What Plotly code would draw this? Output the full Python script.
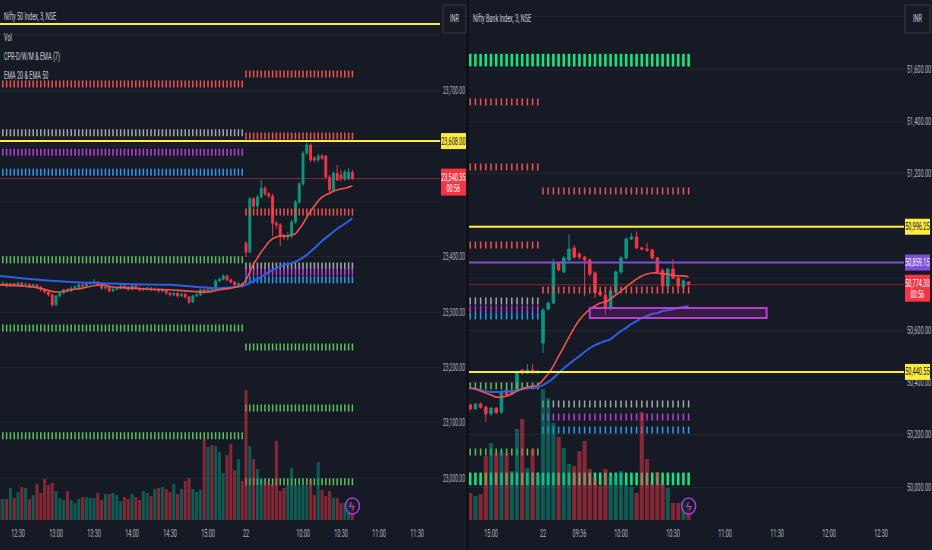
import plotly.graph_objects as go

# ---------------- Nifty 50 Index, 3 min (left pane) ----------------
# bar 0 = 09:15 on the 22nd, negative bars are the afternoon of the 21st
n50_open = [23350, 23349, 23351, 23347, 23351, 23349, 23352, 23349, 23350, 23347,
            23349, 23345, 23340, 23336, 23331, 23313, 23329, 23334, 23340, 23338,
            23343, 23345, 23349, 23347, 23351, 23352, 23354, 23349, 23343, 23345,
            23338, 23341, 23343, 23347, 23345, 23341, 23347, 23343, 23340, 23341,
            23343, 23340, 23341, 23338, 23340, 23334, 23331, 23334, 23329, 23332,
            23327, 23318, 23329, 23331, 23340, 23336, 23341, 23340, 23356, 23359,
            23365, 23358, 23354, 23349, 23351,
            23424, 23408, 23504, 23491, 23507, 23523, 23513, 23509, 23460, 23457,
            23437, 23435, 23437, 23462, 23498, 23531, 23586, 23601, 23577, 23574,
            23581, 23581, 23543, 23520, 23550, 23547, 23540, 23540, 23552]
n50_high = [23354, 23355, 23353, 23353, 23353, 23355, 23354, 23353, 23352, 23351,
            23350, 23347, 23342, 23338, 23333, 23331, 23336, 23342, 23343, 23346,
            23348, 23352, 23351, 23354, 23355, 23360, 23356, 23351, 23348, 23347,
            23344, 23346, 23349, 23349, 23347, 23349, 23349, 23345, 23344, 23346,
            23345, 23344, 23343, 23343, 23342, 23336, 23337, 23336, 23335, 23334,
            23329, 23331, 23334, 23342, 23342, 23344, 23343, 23359, 23362, 23368,
            23367, 23360, 23356, 23353, 23353,
            23428, 23507, 23507, 23511, 23538, 23527, 23516, 23513, 23464, 23460,
            23441, 23444, 23466, 23502, 23534, 23590, 23606, 23604, 23581, 23585,
            23585, 23583, 23547, 23554, 23565, 23556, 23556, 23559, 23556]
n50_low = [23346, 23347, 23344, 23345, 23346, 23347, 23346, 23347, 23344, 23345,
           23342, 23337, 23333, 23328, 23309, 23310, 23326, 23332, 23335, 23336,
           23341, 23343, 23344, 23345, 23349, 23350, 23346, 23340, 23341, 23335,
           23336, 23339, 23341, 23342, 23338, 23339, 23341, 23337, 23338, 23339,
           23337, 23338, 23335, 23336, 23331, 23328, 23329, 23326, 23327, 23324,
           23314, 23316, 23327, 23329, 23333, 23334, 23337, 23338, 23354, 23357,
           23355, 23351, 23346, 23347, 23344,
           23399, 23405, 23487, 23487, 23505, 23509, 23505, 23437, 23451, 23419,
           23430, 23430, 23433, 23459, 23495, 23527, 23583, 23570, 23570, 23570,
           23574, 23541, 23516, 23516, 23536, 23536, 23536, 23538, 23538]
n50_close = [23349, 23351, 23347, 23351, 23349, 23352, 23349, 23350, 23347, 23349,
             23345, 23340, 23336, 23331, 23313, 23329, 23334, 23340, 23338, 23343,
             23345, 23349, 23347, 23351, 23352, 23354, 23349, 23343, 23345, 23338,
             23341, 23343, 23347, 23345, 23341, 23347, 23343, 23340, 23341, 23343,
             23340, 23341, 23338, 23340, 23334, 23331, 23334, 23329, 23332, 23327,
             23318, 23329, 23331, 23340, 23336, 23341, 23340, 23356, 23359, 23365,
             23358, 23354, 23349, 23351, 23347,
             23408, 23504, 23491, 23507, 23523, 23513, 23509, 23460, 23457, 23437,
             23435, 23437, 23462, 23498, 23531, 23586, 23601, 23574, 23574, 23581,
             23577, 23543, 23520, 23550, 23538, 23541, 23552, 23552, 23540.35]
n50_vol = [21, 21, 21, 32, 22, 28, 33, 32, 21, 25, 36, 27, 41, 35, 37, 29, 22, 20, 29, 20,
           17, 21, 23, 23, 22, 22, 27, 20, 26, 26, 27, 25, 19, 23, 21, 26, 23, 20, 29, 27,
           24, 31, 32, 33, 31, 28, 36, 26, 31, 39, 42, 31, 28, 30, 81, 73, 75, 74, 68, 47,
           65, 76, 50, 61, 39,
           130, 74, 61, 51, 41, 39, 36, 36, 79, 29, 32, 35, 52, 35, 34, 36, 34, 40, 25, 58,
           30, 24, 29, 22, 22, 17, 17, 18, 16]

n50_ema20_bar = [-65, -56, -53, -50, -46, -43, -38, -35, -30, -25, -20, -16, -10, -7, -4, -1,
                 0, 1, 2, 3, 4, 5, 6, 7, 8, 9, 10, 11, 12, 13, 14, 15, 16, 17, 18, 19, 20,
                 21, 22, 23, 24, 25, 26, 27, 28]
n50_ema20 = [23349, 23345, 23341, 23336, 23340, 23343, 23349, 23345, 23343, 23341, 23340,
             23338, 23336, 23340, 23343, 23349,
             23358, 23372, 23387, 23397, 23408, 23417, 23426, 23432, 23435, 23437, 23437,
             23437, 23439, 23441, 23450, 23459, 23471, 23482, 23491, 23500, 23507, 23511,
             23514, 23518, 23520, 23522, 23523, 23525, 23527]
n50_ema50_bar = [-65, -56, -46, -38, -30, -20, -13, -7, -3, -1, 0, 2, 4, 6, 8, 10, 12, 14,
                 16, 18, 20, 22, 24, 26, 28]
n50_ema50 = [23365, 23359, 23354, 23352, 23350, 23349, 23345, 23343, 23345, 23347, 23349,
             23356, 23363, 23372, 23379, 23385, 23388, 23394, 23403, 23415, 23428, 23439,
             23450, 23459, 23469]

# CPR / pivot levels, per day
n50_cpr21 = [23711, 23623, 23588, 23552, 23394, 23271, 23077]
n50_cpr21_kind = ['red', 'gray', 'purple', 'blue', 'green', 'green', 'green']
n50_cpr22 = [23729, 23617, 23480, 23383, 23372, 23358, 23237, 23127, 22994]
n50_cpr22_kind = ['red', 'red', 'red', 'gray', 'purple', 'blue', 'green', 'green', 'green']
n50_yellow = [23819, 23608]
n50_last = 23540.35

n50_yticks = [22900, 23000, 23100, 23200, 23300, 23400, 23500, 23600, 23700, 23800]
n50_yhidden = [23500, 23600, 23800]          # covered by the price tags / INR button
n50_ticks_bar = [-60, -50, -40, -30, -20, -10, 0, 15, 25, 35, 45]
n50_ticks_txt = ['12:30', '13:00', '13:30', '14:00', '14:30', '15:00', '22',
                 '10:00', '10:30', '11:00', '11:30']

# ---------------- Nifty Bank Index, 3 min (right pane) ----------------
bnf_open = [50314, 50299, 50318, 50306, 50280, 50302, 50287, 50372, 50356, 50372,
            50448, 50436, 50448, 50437,
            50551, 50681, 50704, 50857, 50823, 50869, 50915, 50892, 50880, 50869,
            50819, 50746, 50735, 50685, 50746, 50823, 50877, 50949, 50957, 50915,
            50911, 50907, 50877, 50830, 50769, 50834, 50800, 50766, 50785]
bnf_high = [50320, 50322, 50324, 50310, 50306, 50308, 50370, 50378, 50374, 50446,
            50452, 50471, 50470, 50450,
            50685, 50710, 50875, 50862, 50885, 50968, 50925, 50898, 50885, 50875,
            50825, 50755, 50740, 50758, 50830, 50885, 50955, 50972, 50978, 50920,
            50935, 50912, 50880, 50835, 50840, 50872, 50805, 50795, 50787]
bnf_low = [50292, 50295, 50300, 50249, 50272, 50278, 50280, 50345, 50350, 50366,
           50430, 50432, 50432, 50432,
           50513, 50675, 50700, 50825, 50818, 50865, 50875, 50870, 50730, 50805,
           50723, 50728, 50658, 50675, 50740, 50815, 50870, 50945, 50910, 50905,
           50900, 50870, 50818, 50765, 50765, 50795, 50765, 50762, 50772]
bnf_close = [50299, 50318, 50305, 50280, 50302, 50285, 50364, 50352, 50368, 50440,
             50436, 50448, 50437, 50440.55,
             50677, 50704, 50857, 50831, 50877, 50911, 50880, 50880, 50869, 50815,
             50743, 50735, 50685, 50750, 50823, 50877, 50949, 50957, 50915, 50911,
             50907, 50877, 50823, 50769, 50834, 50800, 50769, 50789, 50774.30]
bnf_vol = [27, 24, 26, 64, 77, 67, 69, 67, 49, 91, 101, 52, 71, 46,
           131, 122, 97, 83, 72, 56, 54, 69, 79, 51, 42, 34, 51, 44, 46, 49,
           36, 33, 27, 108, 61, 36, 48, 37, 32, 17, 17, 18, 14]

bnf_ema20 = [50379, 50375, 50367, 50360, 50352, 50344, 50344, 50348, 50356, 50367,
             50375, 50383, 50386, 50390,
             50410, 50433, 50463, 50501, 50536, 50574, 50609, 50639, 50662, 50681,
             50693, 50704, 50708, 50720, 50735, 50750, 50766, 50781, 50796, 50808,
             50815, 50819, 50819, 50815, 50815, 50811, 50808, 50808, 50804]
bnf_ema50 = [50379, 50375, 50371, 50367, 50364, 50364, 50364, 50367, 50367, 50371,
             50375, 50379, 50379, 50383,
             50390, 50402, 50417, 50436, 50455, 50471, 50486, 50501, 50517, 50532,
             50543, 50551, 50559, 50566, 50582, 50597, 50609, 50624, 50635, 50647,
             50655, 50662, 50666, 50674, 50677, 50681, 50685, 50689, 50693]

bnf_cpr21 = [51634, 51474, 51225, 50926, 50712, 50681, 50655, 50387, 50134, 50031]
bnf_cpr21_kind = ['lime', 'red', 'red', 'red', 'gray', 'purple', 'blue', 'green', 'green', 'lime']
bnf_cpr22 = [51623, 51634, 51133, 50754, 50318, 50268, 50218, 50031]
bnf_cpr22_kind = ['red', 'lime', 'red', 'red', 'gray', 'purple', 'blue', 'lime']
bnf_yellow = [50996.25, 50440.55]
bnf_purple = 50859.15
bnf_last = 50774.30
bnf_zone_bar = [9, 43]
bnf_zone_price = [50647, 50685]

bnf_yticks = [50000, 50200, 50400, 50600, 50800, 51000, 51200, 51400, 51600, 51800]
bnf_yhidden = [50800, 51000, 51800]
bnf_ticks_bar = [-10, 0, 7, 15, 25, 35, 45, 55, 65]
bnf_ticks_txt = ['15:00', '22', '09:36', '10:00', '10:30', '11:00', '11:30', '12:00', '12:30']

# ---------------- styling ----------------
BG = '#161a25'
GRID = '#232632'
TXT = '#b2b5be'
UP, DOWN = '#089981', '#f23645'
YEL, PUR = '#ffeb3b', '#7e4fd8'
FONT = 'Roboto, sans-serif'
DOT = {'red': ('#ef5350', 5, 1.5), 'gray': ('#a3a6af', 5, 1.5), 'purple': ('#b53fd8', 5, 1.5),
       'blue': ('#2e9bf0', 5, 1.5), 'green': ('#5cc25f', 5, 1.5), 'lime': ('#14e37e', 9, 2.6)}

fig = go.Figure()


def add_pane(fig, xa, ya, va, o, h, l, c, vol, day1, day2, lv1, kd1, lv2, kd2,
             e20x, e20, e50x, e50):
    bars = day1 + day2
    # pivot dots
    for bars_d, lv, kd in ((day1, lv1, kd1), (day2, lv2, kd2)):
        for val, k in zip(lv, kd):
            col, sz, w = DOT[k]
            fig.add_trace(go.Scatter(
                x=bars_d, y=[val] * len(bars_d), mode='markers', xaxis=xa, yaxis=ya,
                marker=dict(symbol='line-ns', size=sz, color=col,
                            line=dict(color=col, width=w)),
                hoverinfo='skip'))
    vcol = ['rgba(8,153,129,0.5)' if cc >= oo else 'rgba(242,54,69,0.5)'
            for oo, cc in zip(o, c)]
    fig.add_trace(go.Bar(x=bars, y=vol, marker_color=vcol, marker_line_width=0,
                         width=0.8, xaxis=xa, yaxis=va, hoverinfo='skip'))
    fig.add_trace(go.Scatter(x=e50x, y=e50, mode='lines', xaxis=xa, yaxis=ya,
                             line=dict(color='#2f5fe6', width=2, shape='spline')))
    fig.add_trace(go.Scatter(x=e20x, y=e20, mode='lines', xaxis=xa, yaxis=ya,
                             line=dict(color='#f0544f', width=1.6, shape='spline')))
    fig.add_trace(go.Candlestick(
        x=bars, open=o, high=h, low=l, close=c, xaxis=xa, yaxis=ya,
        increasing=dict(line=dict(color=UP, width=1), fillcolor=UP),
        decreasing=dict(line=dict(color=DOWN, width=1), fillcolor=DOWN),
        whiskerwidth=0))


n50_day1 = list(range(-65, 0))
n50_day2 = list(range(0, 29))
bnf_day1 = list(range(-14, 0))
bnf_day2 = list(range(0, 29))

add_pane(fig, 'x', 'y', 'y3', n50_open, n50_high, n50_low, n50_close, n50_vol,
         n50_day1, n50_day2, n50_cpr21, n50_cpr21_kind, n50_cpr22, n50_cpr22_kind,
         n50_ema20_bar, n50_ema20, n50_ema50_bar, n50_ema50)
add_pane(fig, 'x2', 'y2', 'y4', bnf_open, bnf_high, bnf_low, bnf_close, bnf_vol,
         bnf_day1, bnf_day2, bnf_cpr21, bnf_cpr21_kind, bnf_cpr22, bnf_cpr22_kind,
         bnf_day1 + bnf_day2, bnf_ema20, bnf_day1 + bnf_day2, bnf_ema50)

shapes = []
ann = []


def hline(xa, ya, v, color, width):
    shapes.append(dict(type='line', xref=xa + ' domain', yref=ya, x0=0, x1=1, y0=v, y1=v,
                       line=dict(color=color, width=width)))


for v in n50_yellow:
    hline('x', 'y', v, YEL, 2)
for v in bnf_yellow:
    hline('x2', 'y2', v, YEL, 2)
hline('x2', 'y2', bnf_purple, PUR, 2)
hline('x', 'y', n50_last, 'rgba(242,54,69,0.5)', 1)
hline('x2', 'y2', bnf_last, 'rgba(242,54,69,0.5)', 1)

shapes.append(dict(type='rect', xref='x2', yref='y2', x0=bnf_zone_bar[0], x1=bnf_zone_bar[1],
                   y0=bnf_zone_price[0], y1=bnf_zone_price[1],
                   fillcolor='rgba(156,39,176,0.22)', line=dict(color='#c13ad6', width=2)))
# pane divider
shapes.append(dict(type='line', xref='paper', yref='paper', x0=467.5 / 932, x1=467.5 / 932,
                   y0=-0.06, y1=1, line=dict(color='#0b0d13', width=2)))
# currency buttons
for x0, x1 in ((443, 466), (905, 930)):
    shapes.append(dict(type='rect', xref='paper', yref='paper', x0=x0 / 932, x1=x1 / 932,
                       y0=(520 - 33) / 520, y1=(520 - 5) / 520, fillcolor=BG,
                       line=dict(color='#363a45', width=1)))
    ann.append(dict(xref='paper', yref='paper', x=(x0 + x1) / 2 / 932, y=(520 - 19) / 520,
                    xanchor='center', yanchor='middle', text='INR', showarrow=False,
                    font=dict(color='#d1d4dc', size=10, family=FONT)))
# replay icons
for xa, ya in (('x', 'y3'), ('x2', 'y4')):
    shapes.append(dict(type='circle', xref=xa, yref=ya, xsizemode='pixel', ysizemode='pixel',
                       xanchor=28, yanchor=14, x0=-7, x1=7, y0=-8, y1=8,
                       line=dict(color='#a040d0', width=1.5), fillcolor='rgba(22,26,37,0.6)'))
    ann.append(dict(xref=xa, yref=ya, x=28, y=14, text='ϟ', showarrow=False,
                    font=dict(color='#b050e0', size=11)))


def price_tag(x0, x1, yref, val, bg, fg, second=None):
    lo, hi = (-17, 10) if second else (-8, 8)
    shapes.append(dict(type='rect', xref='paper', yref=yref, ysizemode='pixel', yanchor=val,
                       x0=x0 / 932, x1=x1 / 932, y0=lo, y1=hi, fillcolor=bg, line_width=0))
    ann.append(dict(xref='paper', yref=yref, x=(x0 + x1) / 2 / 932, y=val,
                    xanchor='center', yanchor='middle', yshift=1 if second else 0,
                    text=f'{val:,.2f}', showarrow=False, font=dict(color=fg, size=10, family=FONT)))
    if second:
        ann.append(dict(xref='paper', yref=yref, x=(x0 + x1) / 2 / 932, y=val,
                        xanchor='center', yanchor='middle', yshift=-10,
                        text=second, showarrow=False, font=dict(color=fg, size=10, family=FONT)))


price_tag(441, 466, 'y', n50_yellow[1], YEL, '#131722')
price_tag(441, 466, 'y', n50_last, DOWN, '#ffffff', '00:56')
price_tag(905, 930, 'y2', bnf_yellow[0], YEL, '#131722')
price_tag(905, 930, 'y2', bnf_yellow[1], YEL, '#131722')
price_tag(905, 930, 'y2', bnf_purple, PUR, '#ffffff')
price_tag(905, 930, 'y2', bnf_last, DOWN, '#ffffff', '00:56')

# pane legends (left edge, line centre in px)
for lx, yy, t in ((4, 17, 'Nifty 50 Index, 3, NSE'), (4, 38, 'Vol'),
                  (4, 57, 'CPR-D/W/M & EMA (7)'), (4, 75, 'EMA 20 & EMA 50'),
                  (473, 19, 'Nifty Bank Index, 3, NSE')):
    ann.append(dict(xref='paper', yref='paper', x=lx / 932, y=(520 - yy) / 520, text=t,
                    xanchor='left', yanchor='middle', align='left', showarrow=False,
                    font=dict(color='#c9ccd4', size=10, family=FONT)))

xcommon = dict(showgrid=False, zeroline=False, showline=False, ticks='', automargin=False,
               tickfont=dict(color=TXT, size=10, family=FONT), rangeslider=dict(visible=False),
               ticklabelstandoff=6, fixedrange=True)
ycommon = dict(side='right', showgrid=True, gridcolor=GRID, gridwidth=1, zeroline=False,
               showline=False, ticks='', tickfont=dict(color=TXT, size=10, family=FONT),
               ticklabelstandoff=2, fixedrange=True, automargin=False)


def tick_text(vals, hidden):
    return ['' if v in hidden else f'{v:,.2f}' for v in vals]


fig.update_layout(
    width=932, height=550, autosize=False, margin=dict(l=0, r=0, t=0, b=30),
    paper_bgcolor=BG, plot_bgcolor=BG, showlegend=False,
    font=dict(family=FONT, color=TXT),
    xaxis=dict(xcommon, domain=[0, 440 / 932], range=[-64.74, 51.05],
               tickvals=n50_ticks_bar, ticktext=n50_ticks_txt, anchor='y'),
    xaxis2=dict(xcommon, domain=[469 / 932, 904 / 932], range=[-14.23, 69.42],
                tickvals=bnf_ticks_bar, ticktext=bnf_ticks_txt, anchor='y2'),
    yaxis=dict(ycommon, anchor='x', range=[22925.2, 23862.2],
               tickvals=n50_yticks, ticktext=tick_text(n50_yticks, n50_yhidden)),
    yaxis2=dict(ycommon, anchor='x2', range=[49873.7, 51864.1],
                tickvals=bnf_yticks, ticktext=tick_text(bnf_yticks, bnf_yhidden)),
    yaxis3=dict(overlaying='y', anchor='x', range=[0, 520], visible=False, automargin=False),
    yaxis4=dict(overlaying='y2', anchor='x2', range=[0, 520], visible=False, automargin=False),
    shapes=shapes, annotations=ann,
)

# no page margin; TradingView's narrow lettering: squeeze every label horizontally,
# then put paper-anchored annotations back where they were asked to be
post = """
document.body.style.margin = '0';
document.body.style.overflow = 'hidden';
var gd = document.getElementById('{plot_id}');
function squeeze() {
  var svg = gd.querySelector('.main-svg');
  if (!svg) return;
  var box = svg.getBoundingClientRect();
  var fl = gd._fullLayout, sz = fl._size;
  gd.querySelectorAll('text').forEach(function (t) {
    if (t.textContent.length < 2) return;
    t.removeAttribute('textLength');
    var w = t.getComputedTextLength();
    var k = t.closest('g.ytick') ? 0.5 : 0.55;
    if (w > 0) {
      t.setAttribute('textLength', (w * k).toFixed(1));
      t.setAttribute('lengthAdjust', 'spacingAndGlyphs');
    }
  });
  gd.querySelectorAll('g.annotation').forEach(function (g) {
    var a = fl.annotations[+g.getAttribute('data-index')];
    var t = g.querySelector('text');
    if (!a || !t || a.xref !== 'paper') return;
    t.removeAttribute('transform');
    var r = t.getBoundingClientRect();
    var cur = a.xanchor === 'left' ? r.left - box.left : (r.left + r.right) / 2 - box.left;
    var want = sz.l + a.x * sz.w;
    t.setAttribute('transform', 'translate(' + (want - cur).toFixed(1) + ',0)');
  });
}
squeeze();
gd.on('plotly_afterplot', squeeze);
setTimeout(squeeze, 200);
"""

fig.write_html("out.html", post_script=post,
               config={'displayModeBar': False, 'responsive': False})
